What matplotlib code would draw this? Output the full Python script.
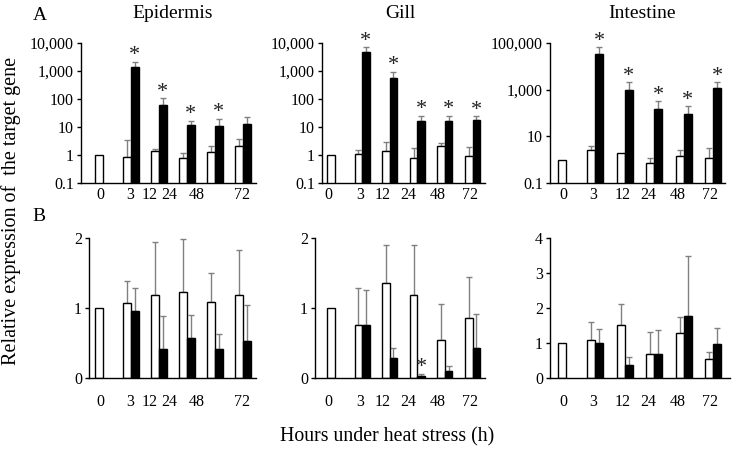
import numpy as np
import matplotlib
matplotlib.use("Agg")
import matplotlib.pyplot as plt
from matplotlib.ticker import FixedLocator, NullLocator

plt.rcParams['font.family'] = ['Liberation Serif', 'DejaVu Serif']

hours = ["0", "3", "12", "24", "48", "72"]
nan = np.nan

# ---- Panel A (log scale) ----
epi_a_ctrl = [1.0, 0.85, 1.36, 0.78, 1.32, 2.17]
epi_a_ctrl_sd = [0, 2.65, 0.29, 0.40, 0.74, 1.63]
epi_a_heat = [nan, 1400, 60, 11.5, 10.9, 12.5]
epi_a_heat_sd = [nan, 700, 45, 5.0, 9.1, 11.1]
epi_a_star = [False, True, True, True, True, False]

gill_a_ctrl = [1.0, 1.05, 1.35, 0.80, 2.1, 0.92]
gill_a_ctrl_sd = [0, 0.45, 1.55, 1.03, 0.5, 1.01]
gill_a_heat = [nan, 4800, 550, 16.8, 16.8, 18.3]
gill_a_heat_sd = [nan, 2200, 400, 8.5, 8.5, 5.9]
gill_a_star = [False, True, True, True, True, True]

int_a_ctrl = [1.0, 2.6, 2.0, 0.70, 1.39, 1.22]
int_a_ctrl_sd = [0, 1.1, 0, 0.45, 1.1, 1.9]
int_a_heat = [nan, 34000, 940, 144, 88, 1180]
int_a_heat_sd = [nan, 33000, 1110, 172, 106, 870]
int_a_star = [False, True, True, True, True, True]

# ---- Panel B (linear scale) ----
epi_b_ctrl = [1.0, 1.07, 1.18, 1.23, 1.08, 1.19]
epi_b_ctrl_sd = [0, 0.31, 0.76, 0.75, 0.42, 0.64]
epi_b_heat = [nan, 0.96, 0.41, 0.57, 0.42, 0.53]
epi_b_heat_sd = [nan, 0.33, 0.47, 0.33, 0.21, 0.51]
epi_b_star = [False] * 6

gill_b_ctrl = [1.0, 0.76, 1.36, 1.19, 0.54, 0.86]
gill_b_ctrl_sd = [0, 0.53, 0.54, 0.71, 0.52, 0.59]
gill_b_heat = [nan, 0.76, 0.29, 0.03, 0.10, 0.43]
gill_b_heat_sd = [nan, 0.50, 0.14, 0.03, 0.07, 0.49]
gill_b_star = [False, False, False, True, False, False]

int_b_ctrl = [1.0, 1.09, 1.52, 0.69, 1.30, 0.54]
int_b_ctrl_sd = [0, 0.51, 0.59, 0.62, 0.44, 0.19]
int_b_heat = [nan, 0.99, 0.37, 0.68, 1.76, 0.96]
int_b_heat_sd = [nan, 0.40, 0.24, 0.68, 1.73, 0.47]
int_b_star = [False] * 6

tissues = ["Epidermis", "Gill", "Intestine"]
a_ticks = [[0.1, 1, 10, 100, 1000, 10000],
           [0.1, 1, 10, 100, 1000, 10000],
           [0.1, 10, 1000, 100000]]
a_ticklabels = [["0.1", "1", "10", "100", "1,000", "10,000"],
                ["0.1", "1", "10", "100", "1,000", "10,000"],
                ["0.1", "10", "1,000", "100,000"]]
b_ticks = [[0, 1, 2], [0, 1, 2], [0, 1, 2, 3, 4]]

# ---- layout (pixels) ----
W, H = 733, 451
fig = plt.figure(figsize=(W / 100, H / 100), dpi=100)

cols = [
    dict(s0=103, sp=28.0, al=81, bl=89, ar=256, br=256, tx=173,
         lab=[-0.11, 0.96, 1.68, 2.36, 3.36, 4.95]),
    dict(s0=334.5, sp=27.6, al=322, bl=315, ar=485, br=485, tx=400,
         lab=[-0.24, 0.92, 1.76, 2.66, 3.75, 4.91]),
    dict(s0=566, sp=29.4, al=550, bl=550, ar=725, br=730, tx=642,
         lab=[-0.1, 0.92, 1.94, 2.79, 3.81, 4.9]),
]
A_top, A_bot = 43, 183
B_top, B_bot = 238, 378
bw = 0.27
grey = '#808080'


def make_axes(xl, xr, yt, yb):
    return fig.add_axes([xl / W, 1 - yb / H, (xr - xl) / W, (yb - yt) / H])


def draw(ax, ctrl, ctrl_sd, heat, heat_sd, star):
    x = np.arange(len(hours))
    ctrl = np.array(ctrl, float)
    heat = np.array(heat, float)
    ax.bar(x - bw / 2, ctrl, width=bw, color='white', edgecolor='black', lw=1.0,
           zorder=2)
    hm = ~np.isnan(heat)
    ax.bar(x[hm] + bw / 2, heat[hm], width=bw, color='black', edgecolor='black',
           lw=1.0, zorder=2)
    csd = np.array(ctrl_sd, float)
    cm = csd > 0
    ax.errorbar(x[cm] - bw / 2, ctrl[cm], yerr=[np.zeros(cm.sum()), csd[cm]],
                fmt='none', ecolor=grey, elinewidth=1.0, capsize=2, capthick=1.0,
                zorder=1)
    hsd = np.array(heat_sd, float)
    ax.errorbar(x[hm] + bw / 2, heat[hm], yerr=[np.zeros(hm.sum()), hsd[hm]],
                fmt='none', ecolor=grey, elinewidth=1.0, capsize=2, capthick=1.0,
                zorder=1)
    for i in range(len(hours)):
        if star[i]:
            ax.annotate('*', xy=(x[i] + bw / 2, heat[i] + hsd[i]),
                        xytext=(0, -2.5), textcoords='offset points',
                        ha='center', va='bottom', fontsize=16, color='#222222')


def style(ax, c, row):
    for s in ['top', 'right']:
        ax.spines[s].set_visible(False)
    for s in ['left', 'bottom']:
        ax.spines[s].set_linewidth(1.0)
    ax.set_xticks(c['lab'])
    ax.set_xticklabels(hours, fontsize=11.5)
    ax.tick_params(axis='x', length=0, pad=3 if row == 0 else 11.5)
    ax.tick_params(axis='y', direction='out', length=3, width=1.0,
                   labelsize=11.5, pad=2)


panels_a = [
    (epi_a_ctrl, epi_a_ctrl_sd, epi_a_heat, epi_a_heat_sd, epi_a_star),
    (gill_a_ctrl, gill_a_ctrl_sd, gill_a_heat, gill_a_heat_sd, gill_a_star),
    (int_a_ctrl, int_a_ctrl_sd, int_a_heat, int_a_heat_sd, int_a_star),
]
panels_b = [
    (epi_b_ctrl, epi_b_ctrl_sd, epi_b_heat, epi_b_heat_sd, epi_b_star),
    (gill_b_ctrl, gill_b_ctrl_sd, gill_b_heat, gill_b_heat_sd, gill_b_star),
    (int_b_ctrl, int_b_ctrl_sd, int_b_heat, int_b_heat_sd, int_b_star),
]

for j, c in enumerate(cols):
    # Row A
    ax = make_axes(c['al'], c['ar'], A_top, A_bot)
    ax.set_yscale('log')
    draw(ax, *panels_a[j])
    ax.set_ylim(a_ticks[j][0], a_ticks[j][-1])
    ax.set_xlim((c['al'] - c['s0']) / c['sp'], (c['ar'] - c['s0']) / c['sp'])
    ax.yaxis.set_major_locator(FixedLocator(a_ticks[j]))
    ax.yaxis.set_minor_locator(NullLocator())
    ax.set_yticklabels(a_ticklabels[j])
    style(ax, c, 0)
    fig.text(c['tx'] / W, 1 - 14 / H, tissues[j], fontsize=14,
             ha='center', va='center')

    # Row B
    ax = make_axes(c['bl'], c['br'], B_top, B_bot)
    draw(ax, *panels_b[j])
    ax.set_ylim(b_ticks[j][0], b_ticks[j][-1])
    ax.set_xlim((c['bl'] - c['s0']) / c['sp'], (c['br'] - c['s0']) / c['sp'])
    ax.set_yticks(b_ticks[j])
    ax.set_yticklabels([str(v) for v in b_ticks[j]])
    style(ax, c, 1)

fig.text(40 / W, 1 - 15 / H, "A", fontsize=14, ha='center', va='center')
fig.text(39 / W, 1 - 216 / H, "B", fontsize=14, ha='center', va='center')
fig.text(11 / W, 1 - 211 / H, "Relative expression of  the target gene",
         rotation=90, fontsize=14.5, ha='center', va='center')
fig.text(387 / W, 1 - 437 / H, "Hours under heat stress (h)", fontsize=14.3,
         ha='center', va='center')

fig.savefig("out.png", dpi=100)
